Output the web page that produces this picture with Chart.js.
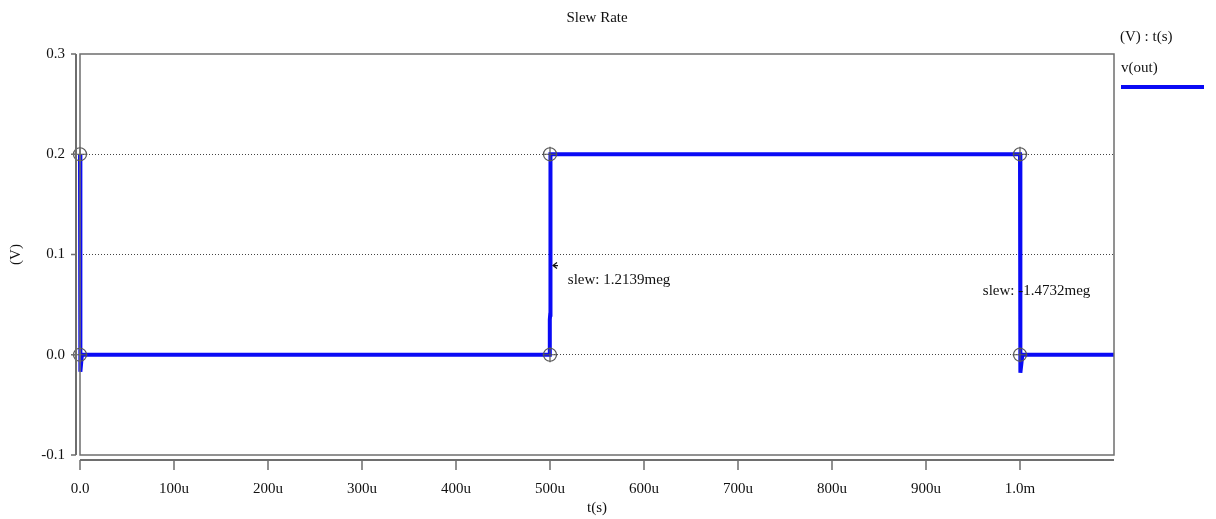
<!DOCTYPE html>
<html>
<head>
<meta charset="utf-8">
<script src="https://cdn.jsdelivr.net/npm/chart.js@4/dist/chart.umd.min.js"></script>
<style>
    html, body { margin: 0; padding: 0; background: #ffffff; }
    canvas { display: block; }
</style>
</head>
<body>
<canvas id="chart" width="1216" height="519"></canvas>
<script>
// valores (tiempo en segundos, tension en voltios)
const vOutTime = [0, 0.4e-6, 2e-6, 499.6e-6, 499.8e-6, 500.2e-6, 500.5e-6, 1000e-6, 1000.4e-6, 1002.5e-6, 1100e-6];
const vOutVolt = [0.2, -0.017, 0, 0, 0.035, 0.04, 0.2, 0.2, -0.018, 0, 0];

// cursores de medida
const cursorTime = [0, 0, 500e-6, 500e-6, 1000e-6, 1000e-6];
const cursorVolt = [0.2, 0, 0, 0.2, 0.2, 0];

const xTickValues = [0, 100e-6, 200e-6, 300e-6, 400e-6, 500e-6, 600e-6, 700e-6, 800e-6, 900e-6, 1000e-6];
const xTickLabels = ["0.0", "100u", "200u", "300u", "400u", "500u", "600u", "700u", "800u", "900u", "1.0m"];
const yTickValues = [-0.1, 0, 0.1, 0.2, 0.3];
const yTickLabels = ["-0.1", "0.0", "0.1", "0.2", "0.3"];

const slewTime = [519e-6, 960.5e-6];
const slewVolt = [0.075, 0.064];
const slewText = ["slew: 1.2139meg", "slew: -1.4732meg"];

const SERIF = "'Liberation Serif', 'DejaVu Serif', serif";
const GRAY = "#6e6e6e";

const vOut = vOutTime.map((t, i) => ({ x: t, y: vOutVolt[i] }));
const cursors = cursorTime.map((t, i) => ({ x: t, y: cursorVolt[i] }));

// marco, ejes separados, titulos, leyenda y anotaciones
const decorPlugin = {
    id: "decor",
    afterDraw(chart) {
        const ctx = chart.ctx;
        const area = chart.chartArea;
        const xs = chart.scales.x;
        const ys = chart.scales.y;
        ctx.save();

        // marco del area de trazado
        ctx.strokeStyle = GRAY;
        ctx.lineWidth = 1.5;
        ctx.strokeRect(area.left, area.top, area.right - area.left, area.bottom - area.top);

        // ejes desplazados
        ctx.lineWidth = 2;
        ctx.beginPath();
        ctx.moveTo(area.left - 4, area.top);
        ctx.lineTo(area.left - 4, area.bottom);
        ctx.moveTo(area.left, area.bottom + 5);
        ctx.lineTo(area.right, area.bottom + 5);
        ctx.stroke();

        ctx.lineWidth = 1.5;
        ctx.beginPath();
        yTickValues.forEach(v => {
            const py = ys.getPixelForValue(v);
            ctx.moveTo(area.left - 9, py);
            ctx.lineTo(area.left - 4, py);
        });
        xTickValues.forEach(v => {
            const px = xs.getPixelForValue(v);
            ctx.moveTo(px, area.bottom + 5);
            ctx.lineTo(px, area.bottom + 15);
        });
        ctx.stroke();

        ctx.fillStyle = "#111";
        ctx.font = "15px " + SERIF;
        ctx.textBaseline = "middle";
        ctx.textAlign = "center";
        ctx.fillText("Slew Rate", (area.left + area.right) / 2, 18);
        ctx.fillText("t(s)", (area.left + area.right) / 2, 508);

        ctx.save();
        ctx.translate(16, (area.top + area.bottom) / 2);
        ctx.rotate(-Math.PI / 2);
        ctx.fillText("(V)", 0, 0);
        ctx.restore();

        // leyenda
        ctx.textAlign = "left";
        ctx.fillText("(V) : t(s)", 1120, 37);
        ctx.fillText("v(out)", 1121, 68);
        ctx.strokeStyle = "#0a0af5";
        ctx.lineWidth = 4;
        ctx.beginPath();
        ctx.moveTo(1121, 87);
        ctx.lineTo(1204, 87);
        ctx.stroke();

        // anotaciones de slew
        slewText.forEach((txt, i) => {
            ctx.fillStyle = "#111";
            ctx.fillText(txt, xs.getPixelForValue(slewTime[i]), ys.getPixelForValue(slewVolt[i]));
        });
        // flechita de la primera medida
        const ax = xs.getPixelForValue(500e-6) + 3;
        const ay = ys.getPixelForValue(0.089);
        ctx.strokeStyle = "#111";
        ctx.lineWidth = 1.2;
        ctx.beginPath();
        ctx.moveTo(ax + 4, ay - 3);
        ctx.lineTo(ax, ay);
        ctx.lineTo(ax + 4, ay + 3);
        ctx.moveTo(ax, ay);
        ctx.lineTo(ax + 5, ay);
        ctx.stroke();

        ctx.restore();
    }
};

new Chart(document.getElementById("chart").getContext("2d"), {
    type: "line",
    data: {
        datasets: [
            {
                label: "cursor",
                type: "scatter",
                data: cursors,
                pointStyle: "circle",
                pointRadius: 6.5,
                pointBorderColor: "#555",
                pointBackgroundColor: "rgba(0,0,0,0)",
                pointBorderWidth: 1.2,
                order: 0,
                clip: false
            },
            {
                label: "cursor cruz",
                type: "scatter",
                data: cursors,
                pointStyle: "cross",
                pointRadius: 7.5,
                pointBorderColor: "#555",
                pointBorderWidth: 1.2,
                order: 0,
                clip: false
            },
            {
                label: "v(out)",
                data: vOut,
                borderColor: "#0a0af5",
                borderWidth: 4,
                pointRadius: 0,
                tension: 0,
                fill: false,
                order: 1,
                clip: false
            }
        ]
    },
    options: {
        responsive: false,
        animation: false,
        devicePixelRatio: 1,
        layout: { padding: { top: 54, right: 102, left: 0, bottom: 0 } },
        plugins: {
            legend: { display: false },
            tooltip: { enabled: false },
            title: { display: false }
        },
        scales: {
            x: {
                type: "linear",
                min: 0,
                max: 1.1e-3,
                afterBuildTicks: scale => { scale.ticks = xTickValues.map(v => ({ value: v })); },
                afterFit: scale => { scale.height = 64; },
                ticks: {
                    autoSkip: false,
                    maxRotation: 0,
                    padding: 17,
                    color: "#111",
                    font: { family: SERIF, size: 15 },
                    callback: (v, i) => xTickLabels[i]
                },
                grid: { display: false },
                border: { display: false }
            },
            y: {
                type: "linear",
                min: -0.1,
                max: 0.3,
                afterBuildTicks: scale => { scale.ticks = yTickValues.map(v => ({ value: v })); },
                afterFit: scale => { scale.width = 80; },
                ticks: {
                    autoSkip: false,
                    padding: 15,
                    color: "#111",
                    font: { family: SERIF, size: 15 },
                    callback: (v, i) => yTickLabels[i]
                },
                grid: {
                    drawTicks: false,
                    lineWidth: 1,
                    color: ctx => (ctx.tick && (ctx.tick.value === 0.3 || ctx.tick.value === -0.1)) ? "rgba(0,0,0,0)" : "#444"
                },
                border: { display: false, dash: [1, 2] }
            }
        }
    },
    plugins: [decorPlugin]
});
</script>
</body>
</html>
